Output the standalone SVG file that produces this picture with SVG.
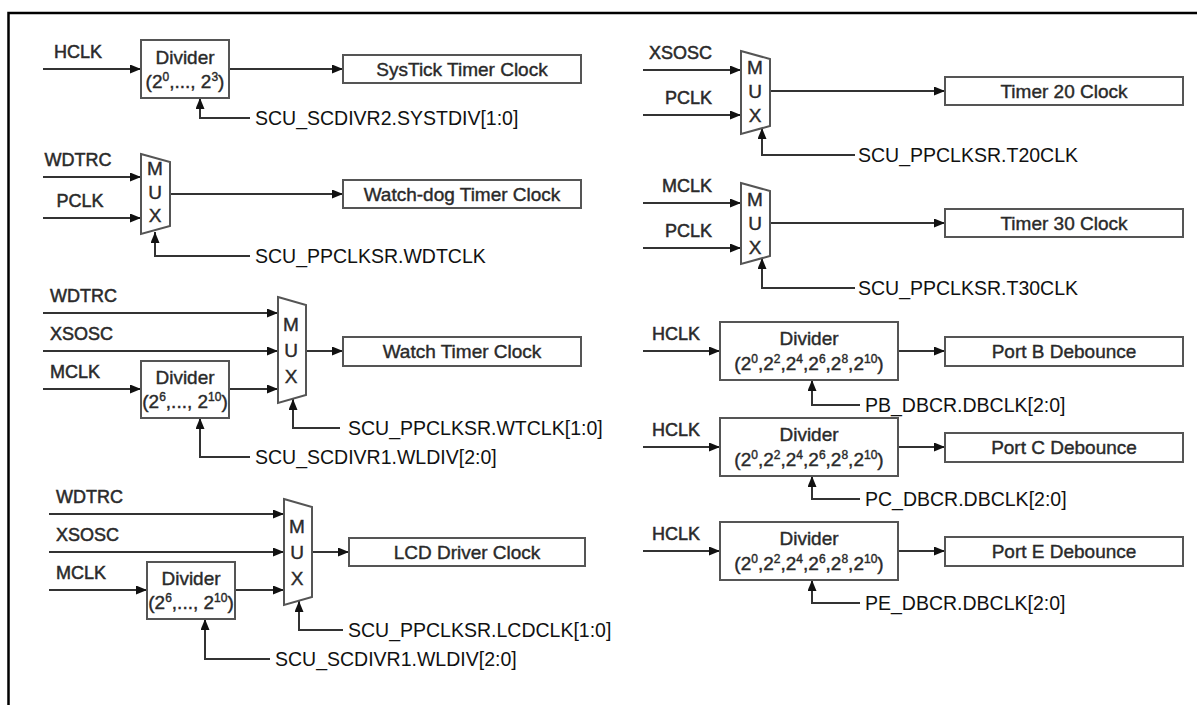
<svg xmlns="http://www.w3.org/2000/svg" width="1197" height="705" viewBox="0 0 1197 705">
<style>
.ln{stroke:#333;stroke-width:2;fill:none}
.bx{fill:#fff;stroke:#555;stroke-width:2}
.lbl{font-family:"Liberation Sans",Arial,sans-serif;font-size:18px;fill:#2a2a2a;stroke:#2a2a2a;stroke-width:0.5}
.nt{font-family:"Liberation Sans",Arial,sans-serif;font-size:19px;fill:#2a2a2a;stroke:#2a2a2a;stroke-width:0.4;text-anchor:middle}
.reg{font-family:"Liberation Sans",Arial,sans-serif;font-size:19.5px;fill:#111}
.sup{font-size:12px}
.e{text-anchor:end}
.m{text-anchor:middle}
</style>
<defs>
<marker id="ah" markerUnits="userSpaceOnUse" markerWidth="11" markerHeight="9" refX="11" refY="4.5" orient="auto">
<path d="M0,0 L11,4.5 L0,9 Z" fill="#111"/>
</marker>
</defs>
<rect width="1197" height="705" fill="#fff"/>
<path d="M8.5,705 V13 H1197" stroke="#000" stroke-width="2.5" fill="none"/>

<g id="connectors">
<path class="ln" d="M43,69 H141" marker-end="url(#ah)"/>
<path class="ln" d="M229,69 H343" marker-end="url(#ah)"/>
<path class="ln" d="M250,118 H200 V98" marker-end="url(#ah)"/>
<path class="ln" d="M43,177 H141" marker-end="url(#ah)"/>
<path class="ln" d="M43,218 H141" marker-end="url(#ah)"/>
<path class="ln" d="M170,194 H343" marker-end="url(#ah)"/>
<path class="ln" d="M250,256 H155 V232" marker-end="url(#ah)"/>
<path class="ln" d="M43,313 H278" marker-end="url(#ah)"/>
<path class="ln" d="M43,351 H278" marker-end="url(#ah)"/>
<path class="ln" d="M43,389 H141" marker-end="url(#ah)"/>
<path class="ln" d="M229,389 H278" marker-end="url(#ah)"/>
<path class="ln" d="M306,351 H343" marker-end="url(#ah)"/>
<path class="ln" d="M340,428 H293 V399" marker-end="url(#ah)"/>
<path class="ln" d="M250,457 H200 V418" marker-end="url(#ah)"/>
<path class="ln" d="M49,514 H284" marker-end="url(#ah)"/>
<path class="ln" d="M49,552 H284" marker-end="url(#ah)"/>
<path class="ln" d="M49,590 H147" marker-end="url(#ah)"/>
<path class="ln" d="M235,590 H284" marker-end="url(#ah)"/>
<path class="ln" d="M312,552 H349" marker-end="url(#ah)"/>
<path class="ln" d="M343,630 H299 V601" marker-end="url(#ah)"/>
<path class="ln" d="M270,659 H205 V619" marker-end="url(#ah)"/>
<path class="ln" d="M643,70 H741" marker-end="url(#ah)"/>
<path class="ln" d="M643,115 H741" marker-end="url(#ah)"/>
<path class="ln" d="M770,91 H945" marker-end="url(#ah)"/>
<path class="ln" d="M855,155 H762 V128" marker-end="url(#ah)"/>
<path class="ln" d="M643,203 H741" marker-end="url(#ah)"/>
<path class="ln" d="M643,248 H741" marker-end="url(#ah)"/>
<path class="ln" d="M770,223 H945" marker-end="url(#ah)"/>
<path class="ln" d="M855,288 H762 V258" marker-end="url(#ah)"/>
<path class="ln" d="M643,351 H720" marker-end="url(#ah)"/>
<path class="ln" d="M898,351 H945" marker-end="url(#ah)"/>
<path class="ln" d="M860,405 H812 V380" marker-end="url(#ah)"/>
<path class="ln" d="M643,447 H720" marker-end="url(#ah)"/>
<path class="ln" d="M898,447 H945" marker-end="url(#ah)"/>
<path class="ln" d="M860,499 H812 V476" marker-end="url(#ah)"/>
<path class="ln" d="M643,551 H720" marker-end="url(#ah)"/>
<path class="ln" d="M898,551 H945" marker-end="url(#ah)"/>
<path class="ln" d="M860,603 H812 V580" marker-end="url(#ah)"/>
</g>

<g id="b1-in"><text class="lbl m" x="78" y="58">HCLK</text></g>
<g id="b1-div">
<rect class="bx" x="141" y="40" width="88" height="58"/>
<text class="nt" x="185" y="64">Divider</text>
<text class="nt" x="185" y="88">(2<tspan class="sup" dy="-7">0</tspan><tspan dy="7">,..., 2</tspan><tspan class="sup" dy="-7">3</tspan><tspan dy="7">)</tspan></text>
</g>
<g id="b1-out"><rect class="bx" x="343" y="55" width="238" height="28"/><text class="nt" x="462" y="76">SysTick Timer Clock</text></g>
<g id="b1-sel"><text class="reg" x="255" y="125">SCU_SCDIVR2.SYSTDIV[1:0]</text></g>

<g id="b2-in"><text class="lbl m" x="78" y="166">WDTRC</text><text class="lbl m" x="80" y="207">PCLK</text></g>
<g id="b2-mux">
<path class="bx" d="M141,154 L170,162 L170,226 L141,234 Z"/>
<text class="nt" x="155" y="175">M</text><text class="nt" x="155" y="199">U</text><text class="nt" x="155" y="222">X</text>
</g>
<g id="b2-out"><rect class="bx" x="343" y="180" width="238" height="28"/><text class="nt" x="462" y="201">Watch-dog Timer Clock</text></g>
<g id="b2-sel"><text class="reg" x="255" y="263">SCU_PPCLKSR.WDTCLK</text></g>

<g id="b3-in"><text class="lbl" x="50" y="302">WDTRC</text><text class="lbl" x="50" y="340">XSOSC</text><text class="lbl" x="50" y="378">MCLK</text></g>
<g id="b3-div">
<rect class="bx" x="141" y="361" width="88" height="57"/>
<text class="nt" x="185" y="384">Divider</text>
<text class="nt" x="185" y="408">(2<tspan class="sup" dy="-7">6</tspan><tspan dy="7">,..., 2</tspan><tspan class="sup" dy="-7">10</tspan><tspan dy="7">)</tspan></text>
</g>
<g id="b3-mux">
<path class="bx" d="M278,297 L306,305 L306,395 L278,403 Z"/>
<text class="nt" x="291" y="331">M</text><text class="nt" x="291" y="357">U</text><text class="nt" x="291" y="383">X</text>
</g>
<g id="b3-out"><rect class="bx" x="343" y="337" width="238" height="29"/><text class="nt" x="462" y="358">Watch Timer Clock</text></g>
<g id="b3-sel"><text class="reg" x="348" y="435">SCU_PPCLKSR.WTCLK[1:0]</text><text class="reg" x="255" y="464">SCU_SCDIVR1.WLDIV[2:0]</text></g>

<g id="b4-in"><text class="lbl" x="56" y="503">WDTRC</text><text class="lbl" x="56" y="541">XSOSC</text><text class="lbl" x="56" y="579">MCLK</text></g>
<g id="b4-div">
<rect class="bx" x="147" y="562" width="88" height="57"/>
<text class="nt" x="191" y="585">Divider</text>
<text class="nt" x="191" y="609">(2<tspan class="sup" dy="-7">6</tspan><tspan dy="7">,..., 2</tspan><tspan class="sup" dy="-7">10</tspan><tspan dy="7">)</tspan></text>
</g>
<g id="b4-mux">
<path class="bx" d="M284,499 L312,507 L312,597 L284,605 Z"/>
<text class="nt" x="297" y="533">M</text><text class="nt" x="297" y="559">U</text><text class="nt" x="297" y="585">X</text>
</g>
<g id="b4-out"><rect class="bx" x="349" y="538" width="236" height="28"/><text class="nt" x="467" y="559">LCD Driver Clock</text></g>
<g id="b4-sel"><text class="reg" x="348" y="637">SCU_PPCLKSR.LCDCLK[1:0]</text><text class="reg" x="275" y="666">SCU_SCDIVR1.WLDIV[2:0]</text></g>

<g id="b5-in"><text class="lbl e" x="712" y="59">XSOSC</text><text class="lbl e" x="712" y="104">PCLK</text></g>
<g id="b5-mux">
<path class="bx" d="M741,51 L770,59 L770,126 L741,134 Z"/>
<text class="nt" x="755" y="74">M</text><text class="nt" x="755" y="98">U</text><text class="nt" x="755" y="122">X</text>
</g>
<g id="b5-out"><rect class="bx" x="945" y="77" width="238" height="28"/><text class="nt" x="1064" y="98">Timer 20 Clock</text></g>
<g id="b5-sel"><text class="reg" x="858" y="162">SCU_PPCLKSR.T20CLK</text></g>

<g id="b6-in"><text class="lbl e" x="712" y="192">MCLK</text><text class="lbl e" x="712" y="237">PCLK</text></g>
<g id="b6-mux">
<path class="bx" d="M741,183 L770,191 L770,256 L741,264 Z"/>
<text class="nt" x="755" y="206">M</text><text class="nt" x="755" y="230">U</text><text class="nt" x="755" y="254">X</text>
</g>
<g id="b6-out"><rect class="bx" x="945" y="209" width="238" height="28"/><text class="nt" x="1064" y="230">Timer 30 Clock</text></g>
<g id="b6-sel"><text class="reg" x="858" y="295">SCU_PPCLKSR.T30CLK</text></g>

<g id="b7-in"><text class="lbl" x="652" y="340">HCLK</text></g>
<g id="b7-div">
<rect class="bx" x="720" y="322" width="178" height="58"/>
<text class="nt" x="809" y="345">Divider</text>
<text class="nt" x="809" y="370">(2<tspan class="sup" dy="-7">0</tspan><tspan dy="7">,2</tspan><tspan class="sup" dy="-7">2</tspan><tspan dy="7">,2</tspan><tspan class="sup" dy="-7">4</tspan><tspan dy="7">,2</tspan><tspan class="sup" dy="-7">6</tspan><tspan dy="7">,2</tspan><tspan class="sup" dy="-7">8</tspan><tspan dy="7">,2</tspan><tspan class="sup" dy="-7">10</tspan><tspan dy="7">)</tspan></text>
</g>
<g id="b7-out"><rect class="bx" x="945" y="337" width="238" height="29"/><text class="nt" x="1064" y="358">Port B Debounce</text></g>
<g id="b7-sel"><text class="reg" x="865" y="412">PB_DBCR.DBCLK[2:0]</text></g>

<g id="b8-in"><text class="lbl" x="652" y="436">HCLK</text></g>
<g id="b8-div">
<rect class="bx" x="720" y="418" width="178" height="58"/>
<text class="nt" x="809" y="441">Divider</text>
<text class="nt" x="809" y="466">(2<tspan class="sup" dy="-7">0</tspan><tspan dy="7">,2</tspan><tspan class="sup" dy="-7">2</tspan><tspan dy="7">,2</tspan><tspan class="sup" dy="-7">4</tspan><tspan dy="7">,2</tspan><tspan class="sup" dy="-7">6</tspan><tspan dy="7">,2</tspan><tspan class="sup" dy="-7">8</tspan><tspan dy="7">,2</tspan><tspan class="sup" dy="-7">10</tspan><tspan dy="7">)</tspan></text>
</g>
<g id="b8-out"><rect class="bx" x="945" y="433" width="238" height="29"/><text class="nt" x="1064" y="454">Port C Debounce</text></g>
<g id="b8-sel"><text class="reg" x="865" y="506">PC_DBCR.DBCLK[2:0]</text></g>

<g id="b9-in"><text class="lbl" x="652" y="540">HCLK</text></g>
<g id="b9-div">
<rect class="bx" x="720" y="522" width="178" height="58"/>
<text class="nt" x="809" y="545">Divider</text>
<text class="nt" x="809" y="570">(2<tspan class="sup" dy="-7">0</tspan><tspan dy="7">,2</tspan><tspan class="sup" dy="-7">2</tspan><tspan dy="7">,2</tspan><tspan class="sup" dy="-7">4</tspan><tspan dy="7">,2</tspan><tspan class="sup" dy="-7">6</tspan><tspan dy="7">,2</tspan><tspan class="sup" dy="-7">8</tspan><tspan dy="7">,2</tspan><tspan class="sup" dy="-7">10</tspan><tspan dy="7">)</tspan></text>
</g>
<g id="b9-out"><rect class="bx" x="945" y="537" width="238" height="29"/><text class="nt" x="1064" y="558">Port E Debounce</text></g>
<g id="b9-sel"><text class="reg" x="865" y="610">PE_DBCR.DBCLK[2:0]</text></g>
</svg>
